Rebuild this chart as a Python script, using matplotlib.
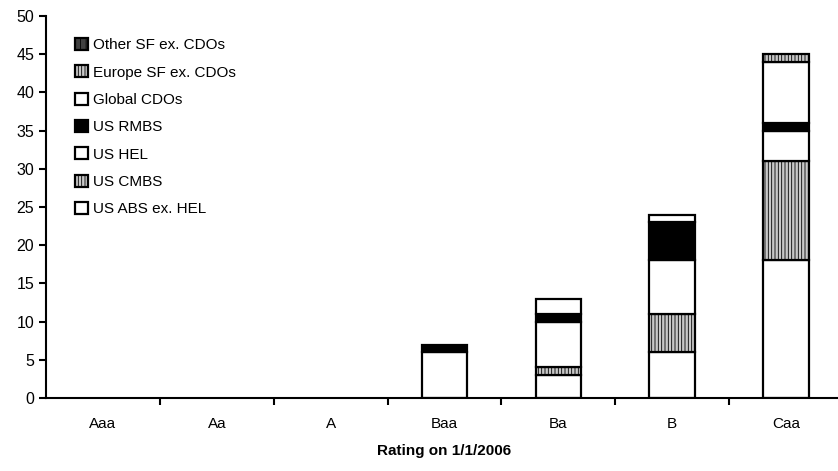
import matplotlib.pyplot as plt
import numpy as np

plt.rcParams['font.family'] = ['Liberation Sans Narrow', 'Liberation Sans', 'DejaVu Sans']
plt.rcParams['hatch.linewidth'] = 0.6

ratings = ['Aaa', 'Aa', 'A', 'Baa', 'Ba', 'B', 'Caa']

# stacked bottom -> top
us_abs = [0, 0, 0, 0, 3, 6, 18]
us_cmbs = [0, 0, 0, 0, 1, 5, 13]
us_hel = [0, 0, 0, 6, 6, 7, 4]
us_rmbs = [0, 0, 0, 1, 1, 5, 1]
global_cdos = [0, 0, 0, 0, 2, 1, 8]
europe_sf = [0, 0, 0, 0, 0, 0, 1]
other_sf = [0, 0, 0, 0, 0, 0, 0]

series = [
    ('US ABS ex. HEL', us_abs, 'white', ''),
    ('US CMBS', us_cmbs, '#c8c8c8', '|||||'),
    ('US HEL', us_hel, 'white', ''),
    ('US RMBS', us_rmbs, 'black', ''),
    ('Global CDOs', global_cdos, 'white', ''),
    ('Europe SF ex. CDOs', europe_sf, '#c8c8c8', '|||||'),
    ('Other SF ex. CDOs', other_sf, '#404040', '|||'),
]

fig = plt.figure(figsize=(8.38, 4.71), dpi=100)
ax = fig.add_axes([46/838, 73/471, 797/838, 382/471])

x = np.arange(len(ratings))
bottom = np.zeros(len(ratings))
handles = []
for name, vals, fc, hatch in series:
    vals = np.array(vals, dtype=float)
    lws = [1.6 if v > 0 else 0 for v in vals]
    b = ax.bar(x, vals, 0.4, bottom=bottom, facecolor=fc, edgecolor='black',
               linewidth=lws, hatch=hatch, label=name)
    handles.append(b)
    bottom += vals

ax.set_xlim(-0.5, 6.5)
ax.set_ylim(0, 50)
ax.set_yticks(np.arange(0, 51, 5))
ax.set_xticks(x)
ax.set_xticklabels(ratings)
ax.set_xticks(np.arange(0.5, 6.5, 1), minor=True)
ax.tick_params(axis='x', which='major', length=0, pad=14, labelsize=11)
ax.tick_params(axis='x', which='minor', length=5, width=1.5, direction='out')
ax.tick_params(axis='y', length=5, width=1.5, direction='out', labelsize=11.5)

for s in ['top', 'right']:
    ax.spines[s].set_visible(False)
for s in ['left', 'bottom']:
    ax.spines[s].set_linewidth(1.5)

ax.set_xlabel('Rating on 1/1/2006', fontweight='bold', fontsize=11, labelpad=9)

leg = ax.legend(handles[::-1], [s[0] for s in series][::-1], loc='upper left',
                bbox_to_anchor=(0.037, 0.943), frameon=False, fontsize=11,
                handlelength=0.85, handleheight=0.85, handletextpad=0.3,
                labelspacing=0.85, borderaxespad=0, borderpad=0)
for h in leg.legend_handles:
    h.set_linewidth(1.6)

fig.savefig('out.png', dpi=100)
